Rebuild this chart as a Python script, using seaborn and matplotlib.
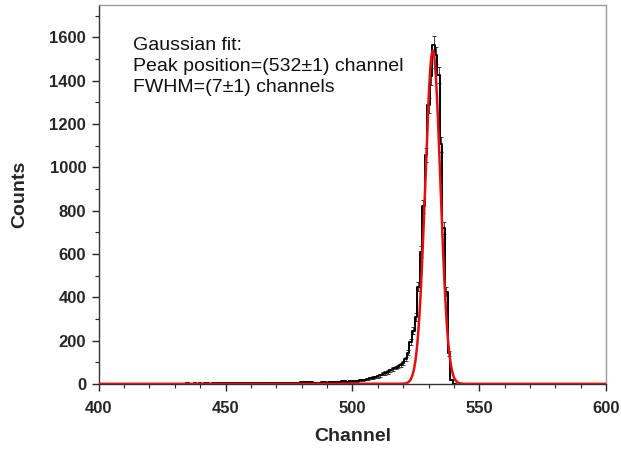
import numpy as np
import pandas as pd
import matplotlib
matplotlib.use("Agg")
import matplotlib.pyplot as plt
import seaborn as sns
from matplotlib.ticker import MultipleLocator

# ---- data ----
# histogram channels (one bin per channel) and counts
channels_low = list(range(400, 470))
counts_low = [0, 0, 1, 0, 0, 1, 0, 0, 1, 0,
              0, 1, 0, 1, 0, 0, 1, 0, 1, 0,
              1, 0, 1, 1, 0, 1, 0, 1, 1, 0,
              1, 1, 0, 1, 1, 2, 1, 1, 2, 1,
              2, 1, 2, 2, 1, 2, 2, 3, 2, 2,
              3, 2, 3, 2, 3, 3, 4, 3, 3, 4,
              3, 4, 4, 3, 4, 5, 4, 4, 5, 4]
channels_mid = list(range(470, 542))
counts_mid = [3, 4, 3, 5, 4, 3, 5, 4, 6, 5,
              7, 8, 10, 9, 7, 6, 5, 6, 7, 8,
              6, 8, 9, 10, 8, 9, 11, 12, 10, 13,
              12, 14, 13, 16, 18, 20, 23, 26, 29, 32,
              35, 40, 46, 50, 55, 62, 68, 75, 80, 85,
              95, 115, 143, 195, 245, 310, 449, 610, 820, 1056,
              1286, 1420, 1567, 1517, 1425, 1106, 719, 425, 141, 20,
              0, 0]

# Gaussian fit parameters (from the annotation / curve)
fit_center = 531.7
fit_fwhm = 7.0
fit_amp = 1540.0
fit_range = (400, 600)

annotation_lines = ["Gaussian fit:",
                    "Peak position=(532\u00b11) channel",
                    "FWHM=(7\u00b11) channels"]

# ---- build tables ----
hist = pd.DataFrame({"Channel": channels_low + channels_mid,
                     "Counts": counts_low + counts_mid})
hist["err"] = np.sqrt(hist["Counts"])

xf = np.linspace(fit_range[0], fit_range[1], 2001)
sigma = fit_fwhm / (2 * np.sqrt(2 * np.log(2)))
fit = pd.DataFrame({"Channel": xf,
                    "Counts": fit_amp * np.exp(-(xf - fit_center) ** 2 / (2 * sigma ** 2))})

# ---- plot ----
sns.set_style("white")
plt.rcParams["font.family"] = ["Liberation Sans", "DejaVu Sans"]

fig = plt.figure(figsize=(6.21, 4.5), dpi=100)
ax = fig.add_axes([0.159, 0.147, 0.817, 0.842])

ax.errorbar(hist["Channel"], hist["Counts"], yerr=hist["err"], fmt="none",
            ecolor="#222222", elinewidth=0.6, capsize=1.2, capthick=0.6, zorder=2)
sns.lineplot(data=hist, x="Channel", y="Counts", ax=ax, color="black",
             linewidth=1.4, drawstyle="steps-mid", zorder=3)
sns.lineplot(data=fit, x="Channel", y="Counts", ax=ax, color="#e01010",
             linewidth=1.8, zorder=4)

ax.set_xlim(400, 600)
ax.set_ylim(0, 1750)
ax.xaxis.set_major_locator(MultipleLocator(50))
ax.xaxis.set_minor_locator(MultipleLocator(10))
ax.yaxis.set_major_locator(MultipleLocator(200))
ax.yaxis.set_minor_locator(MultipleLocator(100))
ax.tick_params(axis="both", which="major", direction="out", length=5, width=1.0,
               labelsize=12, bottom=True, left=True, top=False, right=False)
ax.tick_params(axis="x", which="major", pad=7)
ax.tick_params(axis="y", which="major", pad=4)
ax.tick_params(axis="both", which="minor", direction="out", length=3, width=0.8,
               bottom=True, left=True, top=False, right=False)
for lab in ax.get_xticklabels() + ax.get_yticklabels():
    lab.set_fontweight("bold")

for side in ["left", "bottom"]:
    ax.spines[side].set_color("#333333")
    ax.spines[side].set_linewidth(1.0)
for side in ["top", "right"]:
    ax.spines[side].set_color("#9a9a9a")
    ax.spines[side].set_linewidth(1.0)

ax.set_xlabel("Channel", fontsize=14, fontweight="bold", labelpad=9)
ax.set_ylabel("Counts", fontsize=14, fontweight="bold", labelpad=15)

ax.text(0.067, 0.915, "\n".join(annotation_lines), transform=ax.transAxes,
        fontsize=14, va="top", ha="left", linespacing=1.3, color="#111111")

fig.savefig("out.png", dpi=100)
